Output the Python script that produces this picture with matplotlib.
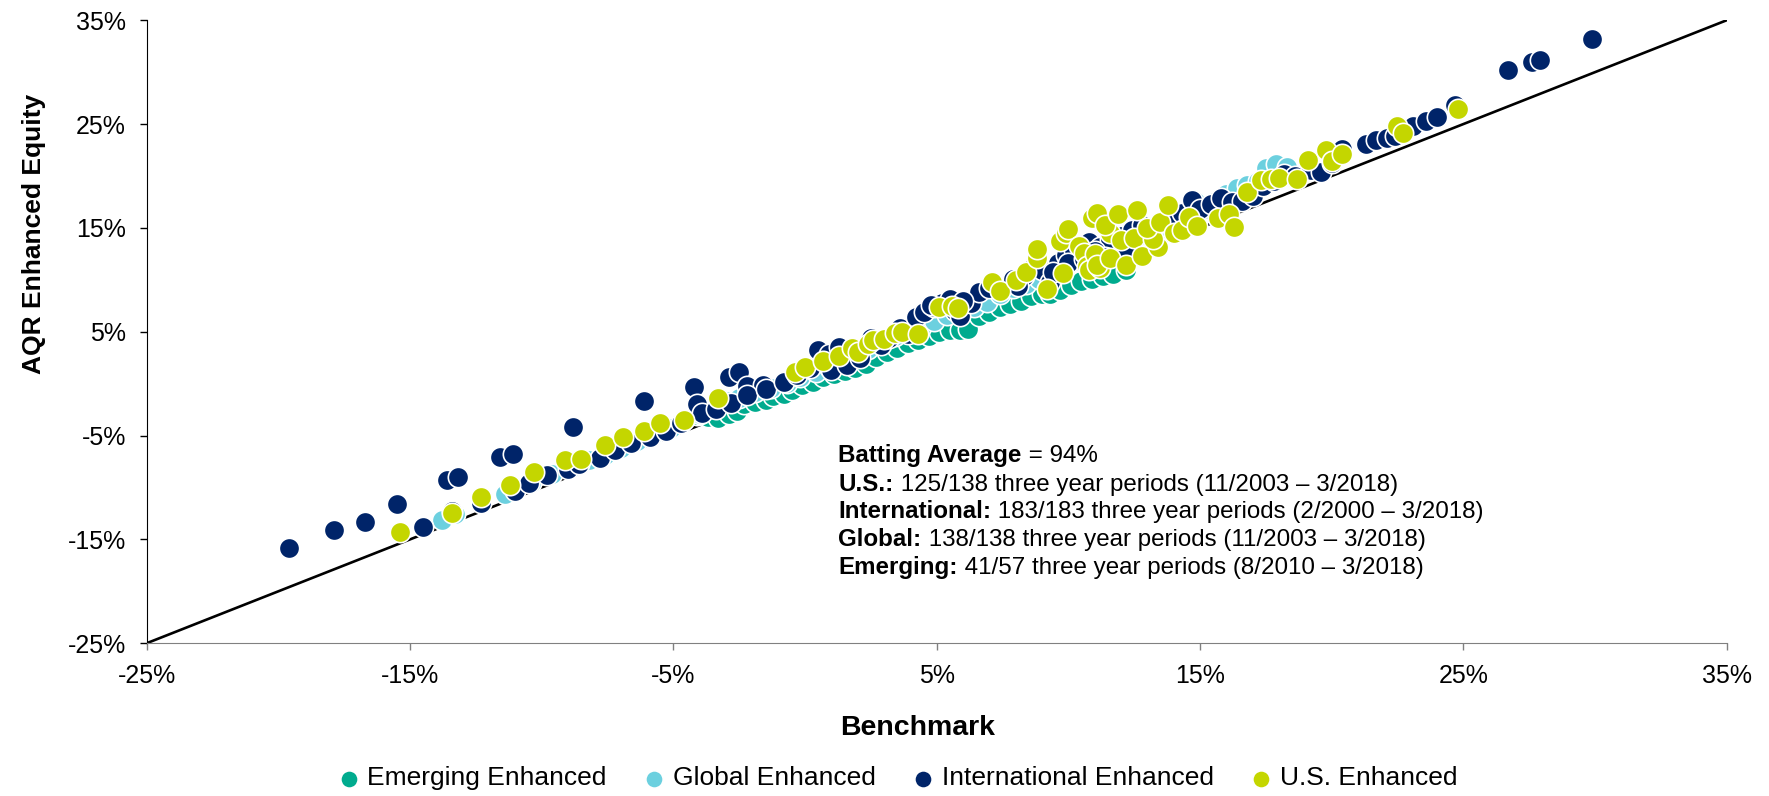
import matplotlib
matplotlib.use("Agg")
import matplotlib.pyplot as plt
from matplotlib.ticker import FuncFormatter

plt.rcParams["font.family"] = ["Liberation Sans", "DejaVu Sans"]

# three-year rolling returns (%), benchmark vs AQR enhanced equity
emerging_x = [-4.1, -3.7, -3.3, -2.9, -2.6, -2.3, -1.9, -1.5, -1.2, -0.8, -0.5, -0.1,
              0.3, 0.7, 1.1, 1.5, 1.9, 2.3, 2.7, 3.1, 3.5, 3.9, 4.3, 4.7, 5.1, 5.5,
              5.9, 6.2, 6.6, 7.0, 7.4, 7.8, 8.2, 8.6, 9.0, 9.3, 9.7, 10.1, 10.5, 10.9,
              11.3, 11.7, 12.2]
emerging_y = [-3.0, -3.2, -3.3, -2.9, -2.6, -2.0, -1.8, -1.6, -1.2, -1.0, -0.6, -0.1,
              0.2, 0.6, 0.9, 1.2, 1.5, 1.9, 2.6, 3.0, 3.4, 3.9, 4.2, 4.6, 5.0, 5.2,
              5.2, 5.3, 6.5, 6.9, 7.4, 7.7, 8.0, 8.4, 8.6, 8.6, 9.0, 9.5, 9.9, 10.1,
              10.4, 10.6, 10.9]

global_x = [-13.8, -13.3, -11.4, -11.0, -10.4, -9.6, -8.9, -8.2, -7.6, -7.0, -6.4, -5.8,
            -5.1, -4.6, -4.0, -3.5, -3.0, -2.5, -1.9, -1.3, -0.7, -0.2, 0.4, 0.9, 1.4,
            1.9, 2.4, 2.9, 3.4, 3.9, 4.4, 4.9, 5.4, 5.9, 6.4, 6.9, 7.4, 7.9, 8.4, 8.9,
            9.4, 9.9, 10.4, 10.9, 11.4, 11.9, 12.4, 12.9, 13.4, 13.9, 14.4, 14.8, 15.2,
            15.6, 16.0, 16.4, 16.8, 17.2, 17.5, 17.9, 18.3]
global_y = [-13.1, -12.6, -10.6, -10.2, -9.6, -8.7, -8.1, -7.4, -6.9, -6.2, -5.5, -5.0,
            -4.3, -3.4, -2.9, -2.3, -1.7, -1.4, -0.8, -0.4, 0.1, 0.6, 1.1, 1.6, 2.1,
            2.8, 3.3, 3.9, 4.6, 5.1, 5.5, 6.0, 6.6, 6.9, 7.4, 7.9, 8.6, 9.2, 9.6, 10.1,
            10.6, 11.3, 11.8, 12.3, 12.8, 13.4, 13.8, 14.3, 14.8, 15.4, 15.9, 17.6, 16.8,
            17.6, 18.3, 18.8, 19.1, 19.5, 20.8, 21.2, 20.9]

intl_x = [-19.6, -17.9, -16.7, -15.5, -14.5, -13.6, -13.2, -11.6, -11.1, -8.8, -6.1, -4.2,
          -4.1, -2.9, -2.5, -2.2, -1.6,
          -13.4, -12.3, -11.0, -10.5, -9.8, -9.0, -8.6, -7.8, -7.2, -6.6, -5.9, -5.3,
          -4.7, -3.9, -3.4, -2.8, -2.2, -1.5, -0.8, -0.3, 0.2, 0.5, 0.9, 1.3, 1.0, 1.6,
          2.1, 2.5, 2.9, 3.2, 3.6, 3.9, 4.2, 4.5, 4.9, 5.2, 5.5, 5.7, 5.9, 6.3, 6.6,
          7.0, 7.4, 7.9, 8.3, 8.7, 9.0, 9.3, 9.6, 9.9, 10.2, 10.5, 10.8, 11.2, 11.6,
          12.0, 12.4, 12.8, 13.2, 13.6, 14.0, 14.3, 14.7, 15.0, 15.4, 15.8, 16.2, 16.6,
          17.0, 17.4, 17.8, 18.2, 18.6, 19.2, 19.6, 20.0, 20.4, 21.3, 21.7, 22.1, 22.4,
          23.1, 23.6, 24.0, 24.7, 26.7, 27.6, 27.9, 29.9,
          10.0, 10.6, 11.0, 11.4, 12.2, 9.4, 8.1, 6.0, 4.8]
intl_y = [-15.8, -14.1, -13.3, -11.6, -13.8, -9.3, -9.0, -7.1, -6.8, -4.2, -1.7, -0.3,
          -2.0, 0.6, 1.1, -0.2, -0.1,
          -12.3, -11.5, -10.3, -9.6, -8.8, -8.2, -7.7, -7.2, -6.4, -5.7, -5.1, -4.6,
          -3.8, -2.8, -2.4, -1.9, -1.1, -0.5, 0.2, 0.8, 1.5, 3.2, 2.9, 3.5, 1.3, 1.8,
          2.5, 4.4, 3.7, 4.4, 5.4, 4.8, 6.4, 6.9, 7.4, 7.8, 8.2, 7.0, 6.5, 7.8, 8.8,
          9.2, 9.0, 10.1, 10.4, 11.3, 10.9, 9.8, 11.6, 12.4, 12.9, 13.4, 13.6, 13.2, 13.9,
          14.2, 14.8, 15.3, 15.1, 15.6, 15.9, 16.4, 17.7, 16.8, 17.3, 17.9, 17.5, 17.6,
          18.1, 19.0, 19.5, 20.2, 20.0, 20.6, 20.4, 21.3, 22.6, 23.1, 23.5, 23.7, 23.9,
          24.8, 25.3, 25.7, 26.8, 30.2, 31.0, 31.2, 33.2,
          11.6, 12.0, 12.8, 12.2, 13.0, 10.8, 9.4, 8.0, 7.6]

us_x = [-15.4, -13.4, -12.3, -11.2, -10.3, -9.1, -8.5, -7.6, -6.9, -6.1, -5.5, -4.6, -3.3,
        -0.4, 0.0, 0.7, 1.3, 1.8, 2.0, 2.4, 2.6, 3.0, 3.4, 3.7, 4.3, 5.1, 5.6, 5.8,
        7.1, 7.4, 8.0, 8.4, 8.8, 8.8, 9.2, 9.8, 9.7, 9.9, 10.0, 10.4, 10.6, 10.7,
        10.8, 11.0, 11.2, 11.1, 11.6, 11.6, 10.9, 11.1, 11.4, 11.9, 12.0, 12.2, 12.5,
        12.6, 12.8, 13.4, 13.2, 13.0, 13.5, 13.8, 14.0, 14.3, 14.6, 14.9, 15.7, 16.1,
        16.3, 16.8, 17.3, 17.7, 18.0, 18.7, 19.1, 19.8, 20.0, 20.4, 22.5, 22.7, 24.8]
us_y = [-14.3, -12.5, -10.9, -9.8, -8.5, -7.4, -7.3, -5.9, -5.1, -4.6, -3.8, -3.5, -1.4,
        1.1, 1.6, 2.2, 2.7, 3.4, 3.0, 3.8, 4.2, 4.3, 4.9, 5.0, 4.8, 7.4, 7.5, 7.3,
        9.8, 8.9, 10.0, 10.8, 12.1, 13.0, 9.1, 10.7, 13.7, 14.5, 14.9, 13.3, 12.6, 11.3,
        10.9, 12.5, 11.1, 11.4, 12.1, 14.5, 16.0, 16.4, 15.3, 16.3, 13.8, 11.4, 14.0,
        16.7, 12.3, 13.2, 13.9, 15.0, 15.6, 17.2, 14.5, 14.8, 16.1, 15.2, 16.0, 16.3,
        15.1, 18.5, 19.6, 19.7, 19.8, 19.7, 21.5, 22.5, 21.4, 22.1, 24.8, 24.1, 26.5]

series = [
    ("Emerging Enhanced", emerging_x, emerging_y, "#00AB8E"),
    ("Global Enhanced", global_x, global_y, "#6CD0DF"),
    ("International Enhanced", intl_x, intl_y, "#002469"),
    ("U.S. Enhanced", us_x, us_y, "#C4D600"),
]

ticks = [-25, -15, -5, 5, 15, 25, 35]

fig = plt.figure(figsize=(17.69, 7.96), dpi=100)
ax = fig.add_axes([0.083, 0.192, 0.893, 0.7825])

ax.plot([-25, 35], [-25, 35], color="black", linewidth=1.9, zorder=1)

for label, xs, ys, color in series:
    ax.scatter(xs, ys, s=215, color=color, edgecolors="white", linewidths=1.2,
               label=label, zorder=2, clip_on=False)

ax.set_xlim(-25, 35)
ax.set_ylim(-25, 35)
ax.set_xticks(ticks)
ax.set_yticks(ticks)
pct = FuncFormatter(lambda v, _: f"{v:.0f}%")
ax.xaxis.set_major_formatter(pct)
ax.yaxis.set_major_formatter(pct)
ax.tick_params(axis="both", direction="out", length=5, width=1, labelsize=18, pad=10)
ax.tick_params(axis="x", colors="#808080", labelcolor="black")

for side in ["top", "right"]:
    ax.spines[side].set_visible(False)
ax.spines["left"].set_color("black")
ax.spines["bottom"].set_color("#808080")

fig.text(0.519, 0.085, "Benchmark", ha="center", va="center",
         fontsize=20.5, fontweight="bold")
fig.text(0.019, 0.706, "AQR Enhanced Equity", ha="center", va="center",
         rotation=90, fontsize=19, fontweight="bold")

# note block: bold prefix followed by regular text on each line
notes = [
    ("Batting Average", " = 94%"),
    ("U.S.:", " 125/138 three year periods (11/2003 \u2013 3/2018)"),
    ("International:", " 183/183 three year periods (2/2000 \u2013 3/2018)"),
    ("Global:", " 138/138 three year periods (11/2003 \u2013 3/2018)"),
    ("Emerging:", " 41/57 three year periods (8/2010 \u2013 3/2018)"),
]
note_y = [-6.96, -9.67, -12.3, -15.0, -17.75]
for (bold, rest), y in zip(notes, note_y):
    t = ax.text(1.27, y, bold, fontsize=17.4, fontweight="bold", ha="left", va="center")
    ax.annotate(rest, xy=(1, 0), xycoords=t, ha="left", va="bottom", fontsize=17.4)

ax.legend(loc="center", bbox_to_anchor=(0.503, 0.022), bbox_transform=fig.transFigure,
          ncol=4, frameon=False, fontsize=19, handletextpad=-0.3, columnspacing=0.8,
          markerscale=0.85, borderaxespad=0)

fig.savefig("out.png", dpi=100)
